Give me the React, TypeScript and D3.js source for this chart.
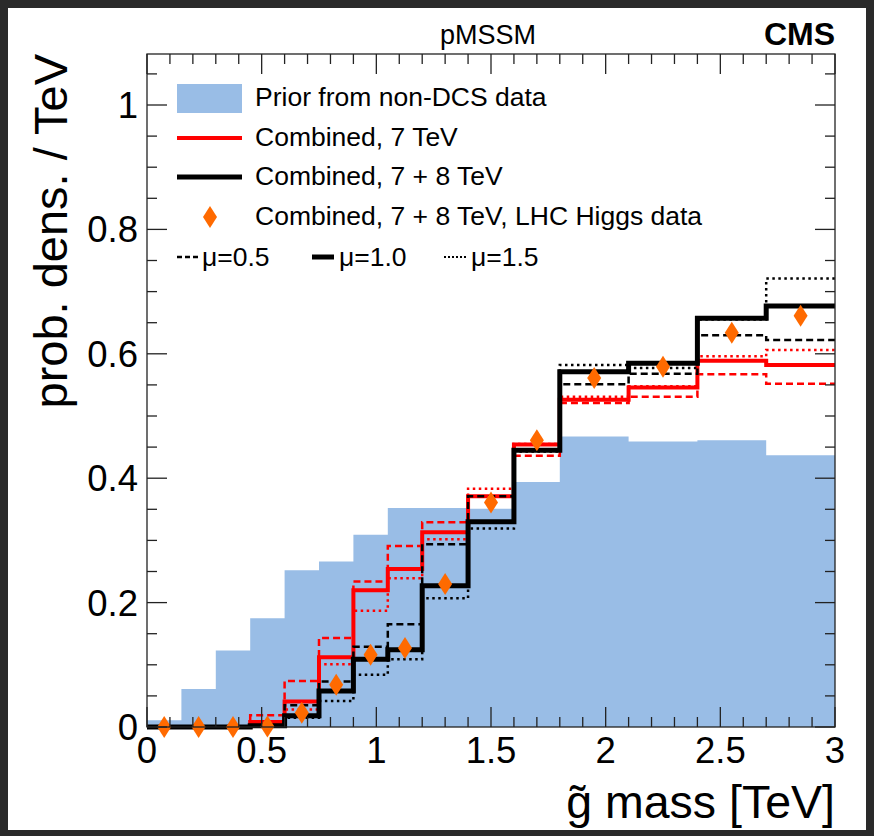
import { useEffect, useRef } from 'react';
import * as d3 from 'd3';

// bin edges of the gluino mass histograms (TeV)
const binEdges = [0, 0.15, 0.3, 0.45, 0.6, 0.75, 0.9, 1.05, 1.2, 1.4, 1.6, 1.8, 2.1, 2.4, 2.7, 3.0];

// prior from non-DCS data (filled)
const priorNonDCS = [0.011, 0.061, 0.123, 0.175, 0.252, 0.266, 0.309, 0.352, 0.352, 0.351, 0.394, 0.467, 0.459, 0.461, 0.437];

// Combined, 7 TeV (red)
const comb7 = [0, 0, 0, 0.008, 0.041, 0.112, 0.220, 0.254, 0.313, 0.371, 0.454, 0.526, 0.546, 0.589, 0.582];
const comb7Mu05 = [0, 0, 0, 0.019, 0.074, 0.143, 0.234, 0.291, 0.329, 0.371, 0.436, 0.521, 0.531, 0.567, 0.552];
const comb7Mu15 = [0, 0, 0, 0.004, 0.028, 0.101, 0.187, 0.239, 0.302, 0.383, 0.455, 0.531, 0.548, 0.596, 0.606];

// Combined, 7 + 8 TeV (black)
const comb78 = [0, 0, 0, 0.002, 0.018, 0.058, 0.109, 0.124, 0.227, 0.330, 0.445, 0.571, 0.585, 0.657, 0.677];
const comb78Mu05 = [0, 0, 0, 0.003, 0.035, 0.073, 0.129, 0.165, 0.294, 0.371, 0.446, 0.551, 0.568, 0.630, 0.622];
const comb78Mu15 = [0, 0, 0, 0.001, 0.015, 0.042, 0.084, 0.109, 0.207, 0.319, 0.443, 0.582, 0.577, 0.655, 0.721];

// Combined, 7 + 8 TeV, LHC Higgs data (markers at bin centres)
const comb78Higgs = [0, 0, 0, 0.001, 0.023, 0.068, 0.116, 0.127, 0.230, 0.361, 0.461, 0.561, 0.579, 0.634, 0.661];

const xTickLabels = ['0', '0.5', '1', '1.5', '2', '2.5', '3'];
const yTickLabels = ['0', '0.2', '0.4', '0.6', '0.8', '1'];

const W = 874;
const H = 836;
const FONT = '"Liberation Sans", Arial, Helvetica, sans-serif';

export default function App() {
  const svgRef = useRef<SVGSVGElement>(null);

  useEffect(() => {
    const svg = d3.select(svgRef.current);
    svg.selectAll('*').remove();

    const x = d3.scaleLinear().domain([0, 3]).range([147, 835]);
    const y = d3.scaleLinear().domain([0, 1.082]).range([727, 54]);

    // page
    svg.append('rect').attr('width', W).attr('height', H).attr('fill', '#2a2a2a');
    svg.append('rect').attr('x', 8).attr('y', 8).attr('width', W - 16).attr('height', H - 14).attr('fill', '#fff');

    const stepPts = (vals: number[]) =>
      vals.map((v, i) => [binEdges[i], v] as [number, number]).concat([[binEdges[vals.length], vals[vals.length - 1]]]);

    // prior fill
    const area = d3.area<[number, number]>()
      .x(d => x(d[0]))
      .y0(y(0))
      .y1(d => y(d[1]))
      .curve(d3.curveStepAfter);
    svg.append('path').attr('d', area(stepPts(priorNonDCS))).attr('fill', '#99bde6');

    const line = d3.line<[number, number]>()
      .x(d => x(d[0]))
      .y(d => y(d[1]))
      .curve(d3.curveStepAfter);

    const hists = [
      { vals: comb7, color: '#ff0000', width: 4, dash: null },
      { vals: comb7Mu05, color: '#ff0000', width: 2.5, dash: '7,4' },
      { vals: comb7Mu15, color: '#ff0000', width: 2.5, dash: '2.5,3.5' },
      { vals: comb78, color: '#000', width: 5, dash: null },
      { vals: comb78Mu05, color: '#000', width: 2.5, dash: '7,4' },
      { vals: comb78Mu15, color: '#000', width: 2.5, dash: '2.5,3.5' },
    ];
    hists.forEach(h => {
      svg.append('path')
        .attr('d', line(stepPts(h.vals)))
        .attr('fill', 'none')
        .attr('stroke', h.color)
        .attr('stroke-width', h.width)
        .attr('stroke-dasharray', h.dash)
        .attr('stroke-linejoin', 'miter');
    });

    // diamonds
    const diamond = 'M0,-11L7,0L0,11L-7,0Z';
    svg.append('g').selectAll('path')
      .data(comb78Higgs)
      .enter()
      .append('path')
      .attr('d', diamond)
      .attr('transform', (d, i) => `translate(${x((binEdges[i] + binEdges[i + 1]) / 2)},${y(d)})`)
      .attr('fill', '#ff6a00');

    // frame + ticks
    const axis = svg.append('g').attr('stroke', '#222').attr('stroke-width', 1.3);
    const [x0, x1] = x.range();
    const [y0, y1] = y.range();
    axis.append('rect').attr('x', x0).attr('y', y1).attr('width', x1 - x0).attr('height', y0 - y1).attr('fill', 'none');

    const xMinor = d3.range(0, 3.001, 0.1);
    xMinor.forEach((v, i) => {
      const len = i % 5 === 0 ? 20 : 10;
      axis.append('line').attr('x1', x(v)).attr('x2', x(v)).attr('y1', y0).attr('y2', y0 - len);
      axis.append('line').attr('x1', x(v)).attr('x2', x(v)).attr('y1', y1).attr('y2', y1 + len);
    });
    const yMinor = d3.range(0, 1.08, 0.05);
    yMinor.forEach((v, i) => {
      const len = i % 4 === 0 ? 20 : 10;
      axis.append('line').attr('x1', x0).attr('x2', x0 + len).attr('y1', y(v)).attr('y2', y(v));
      axis.append('line').attr('x1', x1).attr('x2', x1 - len).attr('y1', y(v)).attr('y2', y(v));
    });

    // tick labels
    svg.append('g').selectAll('text')
      .data(xTickLabels)
      .enter()
      .append('text')
      .attr('x', d => x(+d))
      .attr('y', 763)
      .attr('text-anchor', 'middle')
      .attr('font-family', FONT)
      .attr('font-size', 36.5)
      .text(d => d);

    svg.append('g').selectAll('text')
      .data(yTickLabels)
      .enter()
      .append('text')
      .attr('x', 138)
      .attr('y', d => y(+d) + 13)
      .attr('text-anchor', 'end')
      .attr('font-family', FONT)
      .attr('font-size', 36.5)
      .text(d => d);

    // axis titles
    svg.append('text')
      .attr('transform', 'translate(67,54) rotate(-90)')
      .attr('text-anchor', 'end')
      .attr('font-family', FONT)
      .attr('font-size', 47)
      .text('prob. dens. / TeV');

    svg.append('text')
      .attr('x', 835)
      .attr('y', 818)
      .attr('text-anchor', 'end')
      .attr('font-family', FONT)
      .attr('font-size', 46.5)
      .text('g\u0303 mass [TeV]');

    // header
    svg.append('text')
      .attr('x', 488).attr('y', 44)
      .attr('text-anchor', 'middle')
      .attr('font-family', FONT)
      .attr('font-size', 27)
      .text('pMSSM');
    svg.append('text')
      .attr('x', 835).attr('y', 45)
      .attr('text-anchor', 'end')
      .attr('font-family', FONT)
      .attr('font-size', 32)
      .attr('font-weight', 'bold')
      .text('CMS');

    // legend
    const leg = svg.append('g').attr('font-family', FONT).attr('font-size', 26.5);
    const rowY = [98, 138, 177, 217];
    leg.append('rect').attr('x', 177).attr('y', 84).attr('width', 65).attr('height', 29).attr('fill', '#99bde6');
    leg.append('line').attr('x1', 177).attr('x2', 242).attr('y1', rowY[1]).attr('y2', rowY[1]).attr('stroke', '#ff0000').attr('stroke-width', 4);
    leg.append('line').attr('x1', 177).attr('x2', 242).attr('y1', rowY[2]).attr('y2', rowY[2]).attr('stroke', '#000').attr('stroke-width', 5);
    leg.append('path').attr('d', diamond).attr('transform', `translate(210,${rowY[3]})`).attr('fill', '#ff6a00');
    const labels = ['Prior from non-DCS data', 'Combined, 7 TeV', 'Combined, 7 + 8 TeV', 'Combined, 7 + 8 TeV, LHC Higgs data'];
    labels.forEach((t, i) => {
      leg.append('text').attr('x', 255).attr('y', rowY[i] + 8).text(t);
    });

    const muY = 257;
    const muItems = [
      { x: 177, w: 23, width: 2.5, dash: '5,3', label: 'μ=0.5', tx: 202 },
      { x: 312, w: 22, width: 5, dash: null, label: 'μ=1.0', tx: 339 },
      { x: 444, w: 24, width: 2, dash: '2,2', label: 'μ=1.5', tx: 471 },
    ];
    muItems.forEach(m => {
      leg.append('line')
        .attr('x1', m.x).attr('x2', m.x + m.w)
        .attr('y1', muY).attr('y2', muY)
        .attr('stroke', '#000')
        .attr('stroke-width', m.width)
        .attr('stroke-dasharray', m.dash);
      leg.append('text').attr('x', m.tx).attr('y', muY + 9).text(m.label);
    });
  }, []);

  return <svg ref={svgRef} width={W} height={H} style={{ position: 'absolute', left: 0, top: 0, display: 'block' }}></svg>;
}
